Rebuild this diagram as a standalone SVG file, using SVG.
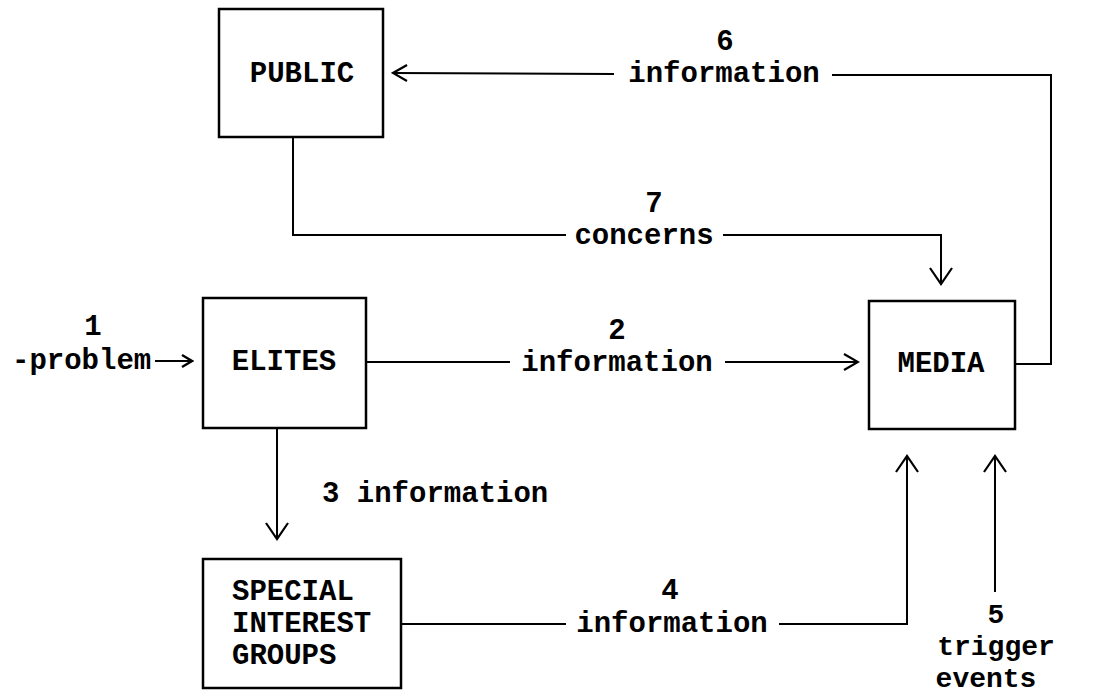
<svg xmlns="http://www.w3.org/2000/svg" width="1103" height="696" viewBox="0 0 1103 696">
  <style>
    .box { fill: #fff; stroke: #000; stroke-width: 2.5; }
    .wire { fill: none; stroke: #000; stroke-width: 2; }
    .t { font-family: "Liberation Mono", "Courier New", monospace; font-weight: bold; font-size: 29px; fill: #000; }
    .tight { font-size: 28px; }
    .c { text-anchor: middle; }
  </style>
  <defs>
    <!-- open V heads: a wider one for the vertical runs, a flatter one for the horizontal runs -->
    <marker id="head-v" viewBox="0 0 20 26" refX="18" refY="13" markerWidth="20" markerHeight="26" markerUnits="userSpaceOnUse" orient="auto">
      <path d="M2,2 L18,13 L2,24" fill="none" stroke="#000" stroke-width="2.2"/>
    </marker>
    <marker id="head-h" viewBox="0 0 18 20" refX="16" refY="10" markerWidth="18" markerHeight="20" markerUnits="userSpaceOnUse" orient="auto">
      <path d="M2,2 L16,10 L2,18" fill="none" stroke="#000" stroke-width="2.2"/>
    </marker>
    <marker id="head-s" viewBox="0 0 14 16" refX="12" refY="8" markerWidth="14" markerHeight="16" markerUnits="userSpaceOnUse" orient="auto">
      <path d="M2,2 L12,8 L2,14" fill="none" stroke="#000" stroke-width="2.4"/>
    </marker>
  </defs>

  <rect width="1103" height="696" fill="#fff"/>

  <g id="connectors">
    <!-- 6: media back to public -->
    <polyline class="wire" points="1015,364 1051,364 1051,75 832,75"/>
    <line class="wire" x1="614" y1="74" x2="393" y2="73" marker-end="url(#head-h)"/>
    <!-- 7: public concerns to media -->
    <polyline class="wire" points="293,137 293,235 566,235"/>
    <polyline class="wire" points="723,235 941,235 941,284" marker-end="url(#head-v)"/>
    <!-- 1: problem into elites -->
    <line class="wire" x1="155" y1="361" x2="192" y2="361" marker-end="url(#head-s)"/>
    <!-- 2: elites to media -->
    <line class="wire" x1="366" y1="362" x2="510" y2="362"/>
    <line class="wire" x1="725" y1="362" x2="858" y2="362" marker-end="url(#head-h)"/>
    <!-- 3: elites to special interest groups -->
    <line class="wire" x1="277" y1="428" x2="277" y2="539" marker-end="url(#head-v)"/>
    <!-- 4: special interest groups to media -->
    <line class="wire" x1="401" y1="624" x2="566" y2="624"/>
    <polyline class="wire" points="779,624 907,624 907,456" marker-end="url(#head-v)"/>
    <!-- 5: trigger events to media -->
    <line class="wire" x1="995" y1="592" x2="995" y2="456" marker-end="url(#head-v)"/>

    <text class="t c" x="725" y="50">6</text>
    <text class="t c" x="724" y="82">information</text>
    <text class="t c" x="654" y="212">7</text>
    <text class="t c" x="644" y="244">concerns</text>
    <text class="t c" x="93" y="335">1</text>
    <text class="t" x="12" y="369">-problem</text>
    <text class="t c" x="617" y="339">2</text>
    <text class="t c" x="617" y="371">information</text>
    <text class="t" x="322" y="502">3 information</text>
    <text class="t c" x="670" y="599">4</text>
    <text class="t c" x="672" y="632">information</text>
    <text class="t tight c" x="996" y="623">5</text>
    <text class="t tight c" x="996" y="655">trigger</text>
    <text class="t tight c" x="986" y="687">events</text>
  </g>

  <g id="public">
    <rect class="box" x="219" y="9" width="164" height="128"/>
    <text class="t c" x="302" y="82">PUBLIC</text>
  </g>
  <g id="elites">
    <rect class="box" x="203" y="298" width="163" height="130"/>
    <text class="t c" x="284" y="370">ELITES</text>
  </g>
  <g id="media">
    <rect class="box" x="869" y="301" width="146" height="128"/>
    <text class="t c" x="941" y="372">MEDIA</text>
  </g>
  <g id="special-interest-groups">
    <rect class="box" x="203" y="559" width="198" height="129"/>
    <text class="t" x="232" y="600">SPECIAL</text>
    <text class="t" x="232" y="632">INTEREST</text>
    <text class="t" x="232" y="664">GROUPS</text>
  </g>
</svg>
